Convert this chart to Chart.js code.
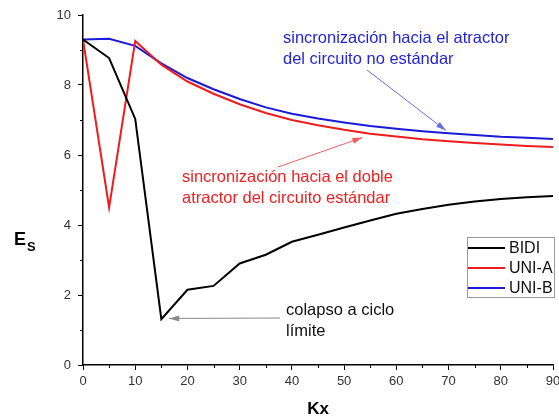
<!DOCTYPE html>
<html>
<head>
<meta charset="utf-8">
<script src="https://cdn.jsdelivr.net/npm/chart.js@4.4.1/dist/chart.umd.min.js"></script>
<style>
  html, body { margin: 0; padding: 0; background: #fff; }
  #wrap { width: 559px; height: 419px; position: relative; }
</style>
</head>
<body>
<div id="wrap"><canvas id="c" width="559" height="419"></canvas></div>
<script>
// Coupling strength Kx
const kx = [0, 5, 10, 15, 20, 25, 30, 35, 40, 45, 50, 55, 60, 65, 70, 75, 80, 85, 90];

// Synchronization error Es for each coupling scheme
const bidi = [9.30, 8.77, 7.03, 1.31, 2.15, 2.26, 2.90, 3.15, 3.52, 3.72, 3.93, 4.13, 4.32, 4.46, 4.58, 4.67, 4.74, 4.79, 4.83];
const uniA = [9.30, 4.50, 9.26, 8.58, 8.10, 7.75, 7.45, 7.20, 7.00, 6.85, 6.72, 6.61, 6.53, 6.45, 6.39, 6.34, 6.30, 6.26, 6.23];
const uniB = [9.30, 9.32, 9.12, 8.62, 8.20, 7.88, 7.60, 7.36, 7.18, 7.04, 6.93, 6.83, 6.75, 6.68, 6.62, 6.57, 6.52, 6.49, 6.46];

const seriesNames = ['BIDI', 'UNI-A', 'UNI-B'];

// Axis ticks
const xTicks = [0, 10, 20, 30, 40, 50, 60, 70, 80, 90];
const yTicks = [0, 2, 4, 6, 8, 10];

const FONT = '"Liberation Sans", Arial, sans-serif';
const COLORS = ['#000000', '#ee1c1c', '#1a1ad8'];

function toPoints(ys) { return kx.map((x, i) => ({ x: x, y: ys[i] })); }

function arrow(ctx, x1, y1, x2, y2, color, head) {
  ctx.save();
  ctx.strokeStyle = color;
  ctx.fillStyle = color;
  ctx.lineWidth = 1;
  ctx.beginPath();
  ctx.moveTo(x1, y1);
  ctx.lineTo(x2, y2);
  ctx.stroke();
  const a = Math.atan2(y2 - y1, x2 - x1);
  const len = head || 9, w = 3;
  ctx.beginPath();
  ctx.moveTo(x2, y2);
  ctx.lineTo(x2 - len * Math.cos(a) + w * Math.sin(a), y2 - len * Math.sin(a) - w * Math.cos(a));
  ctx.lineTo(x2 - len * Math.cos(a) - w * Math.sin(a), y2 - len * Math.sin(a) + w * Math.cos(a));
  ctx.closePath();
  ctx.fill();
  ctx.restore();
}

const decorations = {
  id: 'decorations',
  afterDraw(chart) {
    const ctx = chart.ctx;
    const xs = chart.scales.x, ys = chart.scales.y;
    const ca = chart.chartArea;

    // minor ticks
    ctx.save();
    ctx.strokeStyle = '#000';
    ctx.lineWidth = 1;
    ctx.beginPath();
    for (let v = 5; v < 90; v += 10) {
      const px = Math.round(xs.getPixelForValue(v)) + 0.5;
      ctx.moveTo(px, ca.bottom);
      ctx.lineTo(px, ca.bottom + 3);
    }
    for (let v = 1; v < 10; v += 2) {
      const py = Math.round(ys.getPixelForValue(v)) + 0.5;
      ctx.moveTo(ca.left, py);
      ctx.lineTo(ca.left - 3, py);
    }
    ctx.stroke();
    ctx.restore();

    // axis titles
    ctx.save();
    ctx.fillStyle = '#000';
    ctx.font = 'bold 17px ' + FONT;
    ctx.textAlign = 'center';
    ctx.textBaseline = 'alphabetic';
    ctx.fillText('Kx', (ca.left + ca.right) / 2, 414);
    ctx.textAlign = 'left';
    ctx.font = 'bold 18px ' + FONT;
    ctx.fillText('E', 14, 245);
    ctx.font = 'bold 13px ' + FONT;
    ctx.fillText('S', 27, 251);
    ctx.restore();

    // annotations
    ctx.save();
    ctx.font = '16.5px ' + FONT;
    ctx.textBaseline = 'middle';
    ctx.textAlign = 'left';
    ctx.fillStyle = '#2424d8';
    ctx.fillText('sincronización hacia el atractor', 283, 38);
    ctx.fillText('del circuito no estándar', 283, 59);
    ctx.fillStyle = '#ee2020';
    ctx.fillText('sincronización hacia el doble', 182, 177);
    ctx.fillText('atractor del circuito estándar', 182, 198);
    ctx.fillStyle = '#111';
    ctx.fillText('colapso a ciclo', 286, 310);
    ctx.fillText('límite', 286, 331);
    ctx.restore();

    arrow(ctx, 367, 70, xs.getPixelForValue(69.5), ys.getPixelForValue(6.7), '#6a6ae8', 10);
    arrow(ctx, 278, 167, xs.getPixelForValue(53.5), ys.getPixelForValue(6.5), '#f06060', 10);
    arrow(ctx, 280, 318, xs.getPixelForValue(16.5), ys.getPixelForValue(1.33), '#888888', 10);

    // legend box
    const lx = 467, ly = 237, lw = 87, lh = 60;
    ctx.save();
    ctx.fillStyle = '#fff';
    ctx.fillRect(lx, ly, lw, lh);
    ctx.strokeStyle = '#999';
    ctx.lineWidth = 1;
    ctx.strokeRect(lx + 0.5, ly + 0.5, lw, lh);
    ctx.font = '16px ' + FONT;
    ctx.textBaseline = 'middle';
    chart.data.datasets.forEach((ds, i) => {
      const yy = ly + 11 + i * 20;
      ctx.strokeStyle = ds.borderColor;
      ctx.lineWidth = 2;
      ctx.beginPath();
      ctx.moveTo(lx + 1, yy);
      ctx.lineTo(lx + 38, yy);
      ctx.stroke();
      ctx.fillStyle = '#111';
      ctx.fillText(ds.label, lx + 42, yy + 1);
    });
    ctx.restore();
  }
};

new Chart(document.getElementById('c'), {
  type: 'line',
  data: {
    datasets: [bidi, uniA, uniB].map((ys, i) => ({
      label: seriesNames[i],
      data: toPoints(ys),
      borderColor: COLORS[i],
      borderWidth: 2,
      pointRadius: 0,
      tension: 0,
      fill: false
    }))
  },
  options: {
    responsive: false,
    animation: false,
    devicePixelRatio: 1,
    layout: { padding: { left: 0, right: 6, top: 15, bottom: 0 } },
    plugins: { legend: { display: false }, tooltip: { enabled: false } },
    scales: {
      x: {
        type: 'linear',
        min: 0, max: 90,
        afterBuildTicks(s) { s.ticks = xTicks.map(v => ({ value: v })); },
        afterFit(s) { s.height = 54; s.paddingRight = 0; s.paddingLeft = 0; },
        grid: { drawOnChartArea: false, drawTicks: true, tickLength: 5, tickColor: '#000' },
        border: { display: true, color: '#000', width: 1.5 },
        ticks: { color: '#333', font: { family: FONT, size: 13 }, padding: 4, maxRotation: 0 }
      },
      y: {
        type: 'linear',
        min: 0, max: 10,
        afterBuildTicks(s) { s.ticks = yTicks.map(v => ({ value: v })); },
        afterFit(s) { s.width = 83; s.paddingTop = 0; s.paddingBottom = 0; },
        grid: { drawOnChartArea: false, drawTicks: true, tickLength: 5, tickColor: '#000' },
        border: { display: true, color: '#000', width: 1.5 },
        ticks: { color: '#333', font: { family: FONT, size: 13 }, padding: 7 }
      }
    }
  },
  plugins: [decorations]
});
</script>
</body>
</html>
